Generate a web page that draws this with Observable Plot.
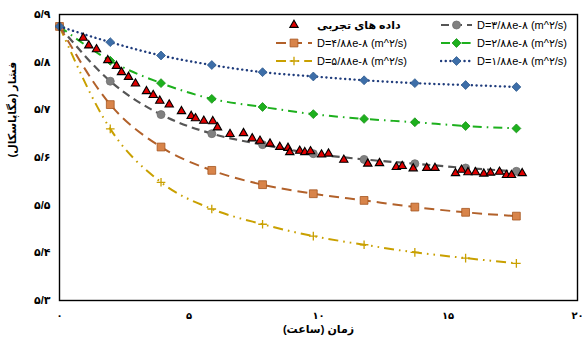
<!DOCTYPE html>
<html><head><meta charset="utf-8">
<script src="https://cdn.jsdelivr.net/npm/d3@7"></script>
<script src="https://cdn.jsdelivr.net/npm/@observablehq/plot@0.6"></script>
<style>
body{margin:0;background:#fff;}
#wrap{position:relative;width:582px;height:342px;font-family:"Liberation Sans","DejaVu Sans",sans-serif;}
#legend{position:absolute;left:275px;top:16px;display:grid;grid-template-columns:165px 140px;grid-auto-rows:18px;align-items:center;font-size:11px;color:#000;}
#legend .it{display:flex;align-items:center;white-space:nowrap;}
#legend .it span{margin-left:4px;}
</style></head><body><div id="wrap"></div>
<script>
// ---- data ----
const hours = [0, 1.96, 3.92, 5.88, 7.84, 9.8, 11.76, 13.72, 15.68, 17.64];
const p_D1 = [5.875, 5.842, 5.814, 5.794, 5.779, 5.770, 5.762, 5.756, 5.752, 5.748];
const p_D2 = [5.875, 5.803, 5.756, 5.723, 5.706, 5.691, 5.681, 5.674, 5.666, 5.661];
const p_D3 = [5.875, 5.760, 5.690, 5.650, 5.627, 5.608, 5.596, 5.587, 5.578, 5.571];
const p_D4 = [5.875, 5.711, 5.622, 5.573, 5.543, 5.524, 5.510, 5.496, 5.485, 5.477];
const p_D5 = [5.875, 5.660, 5.548, 5.492, 5.460, 5.435, 5.417, 5.401, 5.389, 5.378];
const expTime = [0.915,1.131,1.429,1.865,2.201,2.394,2.664,2.934,3.359,3.618,3.873,4.236,4.710,5.085,5.251,5.571,5.919,6.100,6.583,7.104,7.440,7.741,8.127,8.506,8.822,8.892,9.274,9.471,9.691,10.116,10.386,10.977,11.903,12.355,13.004,13.232,13.656,14.181,14.498,15.290,15.521,15.772,16.062,16.382,16.641,16.988,17.259,17.452,17.865];
const expPressure = [5.851,5.835,5.827,5.804,5.792,5.779,5.769,5.755,5.739,5.731,5.719,5.711,5.697,5.687,5.682,5.677,5.676,5.663,5.649,5.651,5.640,5.635,5.629,5.622,5.620,5.611,5.614,5.611,5.613,5.606,5.608,5.595,5.587,5.588,5.580,5.582,5.577,5.578,5.578,5.567,5.574,5.569,5.569,5.566,5.568,5.570,5.563,5.563,5.567];
const xTicks = [0, 5, 10, 15, 20];
const yTicks = [5.3, 5.4, 5.5, 5.6, 5.7, 5.8, 5.9];
const dValues = ["1/88", "2/88", "3/88", "4/88", "5/88"];
const expLabel = "داده های تجربی";
const xTitle = "زمان (ساعت)";
const yTitle = "فشار (مگاپاسکال)";

const fa = s => String(s).replace(/\d/g, d => "۰۱۲۳۴۵۶۷۸۹"[+d]);
const dLabel = v => `D=${fa(v)}e-${fa(8)} (m^${fa(2)}/s)`;

// series styles
const styles = {
  D1: {vals: p_D1, label: dLabel(dValues[0]), stroke: "#1F3C7C", width: 2.4, dash: "0.1 4.6", cap: "round", symbol: "diamond2", fill: "#3D6EA8", mstroke: "#2E5A8E", r: 4},
  D2: {vals: p_D2, label: dLabel(dValues[1]), stroke: "#1DB01D", width: 2, dash: "9 5 1.6 5", cap: "butt", symbol: "diamond2", fill: "#1DB01D", mstroke: "#159015", r: 4},
  D3: {vals: p_D3, label: dLabel(dValues[2]), stroke: "#555555", width: 2.2, dash: "8 5", cap: "butt", symbol: "circle", fill: "#808080", mstroke: "#707070", r: 4},
  D4: {vals: p_D4, label: dLabel(dValues[3]), stroke: "#B2612A", width: 2, dash: "10 6", cap: "butt", symbol: "square", fill: "#D8844A", mstroke: "#A5561F", r: 4.4},
  D5: {vals: p_D5, label: dLabel(dValues[4]), stroke: "#C9A000", width: 2, dash: "10 5 1.6 5 1.6 5", cap: "butt", symbol: "plus", fill: "none", mstroke: "#C9A000", r: 2.9}
};
const order = ["D3", "D2", "D5", "D4", "D1"];

const marks = [];
for (const k of order) {
  const s = styles[k];
  const data = hours.map((h, i) => ({h, p: s.vals[i]}));
  marks.push(Plot.line(data, {x: "h", y: "p", stroke: s.stroke, strokeWidth: s.width, strokeDasharray: s.dash, strokeLinecap: s.cap, curve: "monotone-x"}));
  marks.push(Plot.dot(data, {x: "h", y: "p", symbol: s.symbol, r: s.r, fill: s.fill, stroke: s.mstroke, strokeWidth: s.symbol === "plus" ? 1.3 : 0.8}));
}
const exp = expTime.map((t, i) => ({t, p: expPressure[i]}));
marks.push(Plot.dot(exp, {x: "t", y: "p", symbol: "triangle", r: 3.1, fill: "#E00000", stroke: "#000", strokeWidth: 1.1}));

const plot = Plot.plot({
  width: 582, height: 342,
  marginLeft: 59, marginRight: 5, marginTop: 14, marginBottom: 42,
  style: {background: "#fff", fontFamily: "'Liberation Sans','DejaVu Sans',sans-serif"},
  x: {domain: [0, 20], ticks: xTicks},
  y: {domain: [5.3, 5.9], ticks: yTicks},
  marks: [
    ...marks,
    Plot.frame({stroke: "#000", strokeWidth: 1.4}),
    Plot.axisX({ticks: xTicks, tickSize: 0, tickPadding: 11, tickFormat: d => fa(d), fontSize: 10, fontWeight: "bold", label: null}),
    Plot.axisY({ticks: yTicks, tickSize: 0, tickPadding: 9, tickFormat: d => fa(d.toFixed(1).replace(".", "/")), fontSize: 11, fontWeight: "bold", label: null}),
    Plot.text([xTitle], {text: d => "\u200F" + d + "\u200F", frameAnchor: "bottom", dy: 32, fontSize: 11, fontWeight: "bold"}),
    Plot.text([yTitle], {text: d => "\u200F" + d + "\u200F", frameAnchor: "left", dx: -47, rotate: -90, fontSize: 11, fontWeight: "bold"})
  ]
});
const wrap = document.getElementById("wrap");
wrap.appendChild(plot);

// ---- legend ----
const legend = d3.select(wrap).append("div").attr("id", "legend");
const items = [
  {type: "exp", label: expLabel, w: 38},
  {type: "D3", w: 33},
  {type: "D4", w: 38},
  {type: "D2", w: 33},
  {type: "D5", w: 38},
  {type: "D1", w: 33}
];
const symMap = {diamond2: d3.symbolDiamond2, circle: d3.symbolCircle, square: d3.symbolSquare, plus: d3.symbolPlus, triangle: d3.symbolTriangle};
for (const it of items) {
  const div = legend.append("div").attr("class", "it");
  const svg = div.append("svg").attr("width", it.w).attr("height", 14);
  const cx = it.w / 2;
  if (it.type === "exp") {
    svg.append("path").attr("transform", `translate(${cx},7)`).attr("d", d3.symbol(d3.symbolTriangle, 3.1 * 3.1 * Math.PI)())
      .attr("fill", "#E00000").attr("stroke", "#000").attr("stroke-width", 1.1);
    div.append("span").attr("dir", "rtl").style("font-weight", "bold").text(it.label);
  } else {
    const s = styles[it.type];
    svg.append("line").attr("x1", 1).attr("x2", it.w - 1).attr("y1", 7).attr("y2", 7)
      .attr("stroke", s.stroke).attr("stroke-width", s.width).attr("stroke-dasharray", s.dash).attr("stroke-linecap", s.cap);
    svg.append("path").attr("transform", `translate(${cx},7)`).attr("d", d3.symbol(symMap[s.symbol], s.r * s.r * Math.PI)())
      .attr("fill", s.fill).attr("stroke", s.mstroke).attr("stroke-width", s.symbol === "plus" ? 1.3 : 0.8);
    div.append("span").text(s.label);
  }
}
</script>
</body></html>
